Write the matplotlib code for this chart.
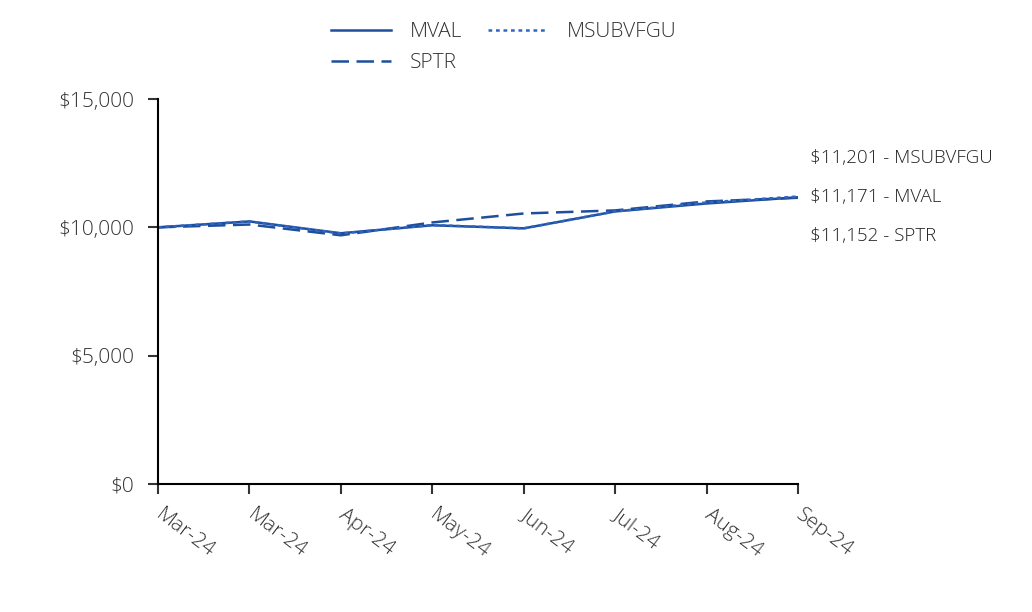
import matplotlib
matplotlib.use("Agg")
import matplotlib.pyplot as plt
import matplotlib.transforms as mtransforms
from matplotlib.ticker import FuncFormatter

plt.rcParams['font.family'] = ['Open Sans', 'DejaVu Sans']

dates = ["Mar-24", "Mar-24", "Apr-24", "May-24", "Jun-24", "Jul-24", "Aug-24", "Sep-24"]
mval = [10000, 10230, 9770, 10080, 9960, 10620, 10930, 11171]
msubvfgu = [10000, 10230, 9760, 10090, 9960, 10620, 10970, 11201]
sptr = [10000, 10110, 9690, 10190, 10540, 10660, 11010, 11152]
end_labels = ["$11,201 - MSUBVFGU", "$11,171 - MVAL", "$11,152 - SPTR"]

color = "#1f4e9c"
color2 = "#2e66c4"

fig = plt.figure(figsize=(10.32, 6.12), dpi=100)
ax = fig.add_axes([0.1531, 0.2092, 0.7733 - 0.1531, 0.8382 - 0.2092])
x = list(range(len(dates)))
l1, = ax.plot(x, mval, color=color, lw=1.8, label="MVAL")
l3, = ax.plot(x, sptr, color=color, lw=1.8, ls=(0, (7, 3)), label="SPTR")
l2, = ax.plot(x, msubvfgu, color=color2, lw=1.8, ls=(0, (1.5, 1.5)), label="MSUBVFGU")

ax.set_xlim(0, len(dates) - 1)
ax.set_ylim(0, 15000)
ax.set_yticks([0, 5000, 10000, 15000])
ax.yaxis.set_major_formatter(FuncFormatter(lambda v, p: f"${v:,.0f}"))
ax.set_xticks(x)
ax.set_xticklabels(dates, rotation=-37, ha='left', rotation_mode='anchor')
for s in ['top', 'right']:
    ax.spines[s].set_visible(False)
for s in ['left', 'bottom']:
    ax.spines[s].set_linewidth(1.5)
ax.tick_params(axis='both', direction='out', length=7, width=1.5, labelsize=15, colors='#333333')
ax.tick_params(axis='x', pad=8)
ax.tick_params(axis='y', pad=10)
offset = mtransforms.ScaledTranslation(6 / 100, 0, fig.dpi_scale_trans)
for lab in ax.get_xticklabels():
    lab.set_transform(lab.get_transform() + offset)
for lab in ax.get_xticklabels() + ax.get_yticklabels():
    lab.set_fontweight('light')
    lab.set_color('#333333')

ys = [158, 197, 236]
for t, yp in zip(end_labels, ys):
    fig.text(810 / 1032, 1 - yp / 612, t, fontsize=13.5, fontweight='light', color='#222222', va='center', ha='left')

leg = fig.legend(handles=[l1, l3, l2], labels=["MVAL", "SPTR", "MSUBVFGU"], ncol=2, loc='upper center',
                 bbox_to_anchor=(0.488, 0.995), frameon=False, fontsize=15, handlelength=2.9,
                 columnspacing=1.25, handletextpad=0.87, labelspacing=0.55)
for t in leg.get_texts():
    t.set_fontweight('light')
    t.set_color('#333333')

fig.savefig("out.png", dpi=100)
